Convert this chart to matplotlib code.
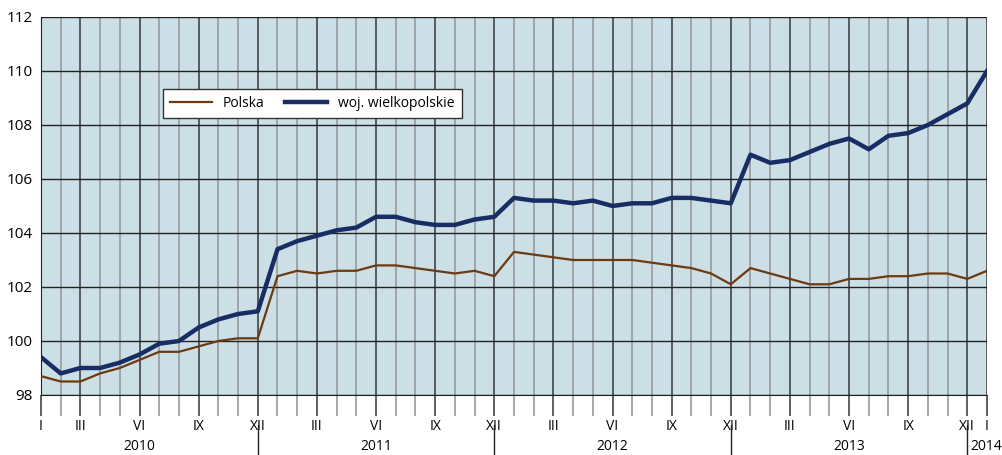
import matplotlib.pyplot as plt
from matplotlib.transforms import blended_transform_factory

# Dane: styczeń 2010 - styczeń 2014
polska = [98.7, 98.5, 98.5, 98.8, 99.0, 99.3, 99.6, 99.6, 99.8, 100.0, 100.1, 100.1,
          102.4, 102.6, 102.5, 102.6, 102.6, 102.8, 102.8, 102.7, 102.6, 102.5, 102.6, 102.4,
          103.3, 103.2, 103.1, 103.0, 103.0, 103.0, 103.0, 102.9, 102.8, 102.7, 102.5, 102.1,
          102.7, 102.5, 102.3, 102.1, 102.1, 102.3, 102.3, 102.4, 102.4, 102.5, 102.5, 102.3,
          102.6]
wielkopolskie = [99.4, 98.8, 99.0, 99.0, 99.2, 99.5, 99.9, 100.0, 100.5, 100.8, 101.0, 101.1,
                 103.4, 103.7, 103.9, 104.1, 104.2, 104.6, 104.6, 104.4, 104.3, 104.3, 104.5, 104.6,
                 105.3, 105.2, 105.2, 105.1, 105.2, 105.0, 105.1, 105.1, 105.3, 105.3, 105.2, 105.1,
                 106.9, 106.6, 106.7, 107.0, 107.3, 107.5, 107.1, 107.6, 107.7, 108.0, 108.4, 108.8,
                 110.0]
miesiace = ['', '', 'III', '', '', 'VI', '', '', 'IX', '', '', 'XII']
lata = ['2010', '2011', '2012', '2013']

plt.rcParams['font.family'] = ['Open Sans', 'DejaVu Sans']

fig = plt.figure(figsize=(10.03, 4.55), dpi=100)
ax = fig.add_axes([41 / 1003, 1 - 395 / 455, 946 / 1003, 378 / 455])
ax.set_facecolor('#cddfe6')

x = list(range(len(polska)))
ax.plot(x, polska, color='#6b3a10', lw=1.6, label='Polska', zorder=3)
ax.plot(x, wielkopolskie, color='#172d63', lw=3.2, label='woj. wielkopolskie', zorder=4)

ax.set_xlim(0, len(x) - 1)
ax.set_ylim(98, 112)
ax.set_yticks(range(98, 113, 2))

# etykiety miesięcy (styczeń tylko na początku i końcu)
etykiety = [miesiace[i % 12] for i in x]
etykiety[0] = 'I'
etykiety[-1] = 'I'
major = [i for i in x if etykiety[i] != '']
ax.set_xticks(major)
ax.set_xticklabels([etykiety[i] for i in major])
ax.set_xticks(x, minor=True)
ax.tick_params(axis='x', which='major', length=15, color='#444444', width=1.2, labelsize=10, pad=2)
ax.tick_params(axis='x', which='minor', length=15, color='#9a9a9a', width=1.2)
ax.tick_params(axis='y', length=0, labelsize=11, pad=6)

ax.grid(axis='x', which='minor', color='#9a9a9a', lw=1.2, zorder=1)
ax.grid(axis='x', which='major', color='#444444', lw=1.2, zorder=1)
ax.grid(axis='y', which='major', color='#222222', lw=1.0, zorder=1)
ax.set_axisbelow(True)

for s in ['top', 'right']:
    ax.spines[s].set_visible(False)
ax.spines['bottom'].set_color('#222222')
ax.spines['left'].set_color('#222222')

# lata pod osią
tr = blended_transform_factory(ax.transData, ax.transAxes)
for k, rok in enumerate(lata):
    ax.text(k * 12 + 5, -0.135, rok, transform=tr, ha='center', va='center', fontsize=10)
    sep = k * 12 + 11
    ax.plot([sep, sep], [-0.08, -0.16], transform=tr, color='#222222', lw=1, clip_on=False)
ax.text(47.15, -0.135, '2014', transform=tr, ha='left', va='center', fontsize=10)

leg = ax.legend(loc='upper left', bbox_to_anchor=(0.129, 0.81), ncol=2, fontsize=10,
                frameon=True, fancybox=False, edgecolor='#333333', framealpha=1,
                handlelength=3, columnspacing=1.5, borderpad=0.5, borderaxespad=0)
leg.get_frame().set_linewidth(1)

plt.savefig('out.png', dpi=100)
